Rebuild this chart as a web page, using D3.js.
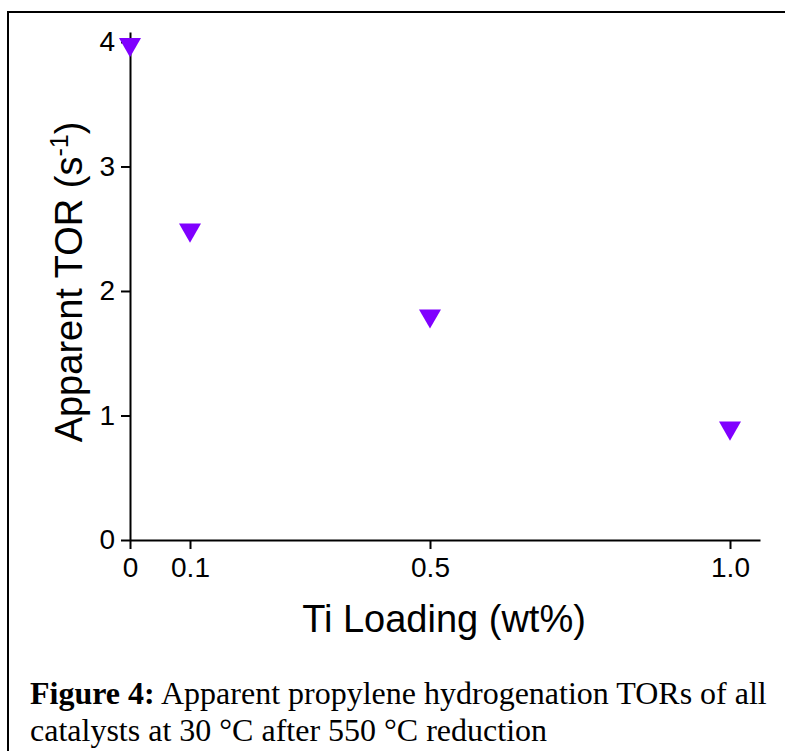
<!DOCTYPE html>
<html>
<head>
<meta charset="utf-8">
<script src="https://cdn.jsdelivr.net/npm/d3@7"></script>
<style>
  body { margin: 0; background: #fff; }
  svg { display: block; }
</style>
</head>
<body>
<script>
// data
var loading = [0, 0.1, 0.5, 1.0];          // Ti loading, wt%
var tor = [3.98, 2.49, 1.80, 0.90];        // apparent TOR, s^-1
var xTicks = [0, 0.1, 0.5, 1.0];
var xTickLabels = ["0", "0.1", "0.5", "1.0"];
var yTicks = [0, 1, 2, 3, 4];

var width = 785,
    height = 751;

var svg = d3.select("body").append("svg")
    .attr("width", width)
    .attr("height", height);

// frame (only left and top edges are in view)
svg.append("path")
    .attr("d", "M8,760V12H790")
    .style("fill", "none")
    .style("stroke", "#000")
    .style("stroke-width", "2px");

var x = d3.scaleLinear().domain([0, 1.05]).range([130, 760]);
var y = d3.scaleLinear().domain([0, 4.08]).range([540, 32]);

var xAxis = svg.append("g")
    .attr("transform", "translate(0,540)")
    .call(d3.axisBottom(x)
        .tickValues(xTicks)
        .tickFormat(function(d, i) { return xTickLabels[i]; })
        .tickSize(9)
        .tickSizeOuter(0)
        .tickPadding(8));

var yAxis = svg.append("g")
    .attr("transform", "translate(130,0)")
    .call(d3.axisLeft(y)
        .tickValues(yTicks)
        .tickFormat(d3.format("d"))
        .tickSize(9)
        .tickSizeOuter(0)
        .tickPadding(6));

[xAxis, yAxis].forEach(function(g) {
    g.select(".domain").style("stroke", "#000").style("stroke-width", "2px");
    g.selectAll(".tick line").style("stroke", "#000").style("stroke-width", "2px");
    g.selectAll(".tick text")
        .style("font-family", "Arial, 'Liberation Sans', sans-serif")
        .style("font-size", "28px")
        .style("fill", "#000");
});

// axis titles
svg.append("text")
    .attr("x", 444)
    .attr("y", 632)
    .attr("text-anchor", "middle")
    .style("font-family", "Arial, 'Liberation Sans', sans-serif")
    .style("font-size", "38px")
    .text("Ti Loading (wt%)");

var yTitle = svg.append("text")
    .attr("transform", "translate(82,282) rotate(-90)")
    .attr("text-anchor", "middle")
    .style("font-family", "Arial, 'Liberation Sans', sans-serif")
    .style("font-size", "38px");
yTitle.append("tspan").text("Apparent TOR (s");
yTitle.append("tspan").attr("dy", -14).style("font-size", "25px").text("-1");
yTitle.append("tspan").attr("dy", 14).text(")");

// markers
var marker = d3.symbol().type(d3.symbolTriangle).size(210);
svg.selectAll(".pt")
    .data(loading)
    .enter()
    .append("path")
    .attr("class", "pt")
    .attr("d", marker)
    .attr("transform", function(d, i) {
        return "translate(" + x(d) + "," + y(tor[i]) + ") rotate(180)";
    })
    .style("fill", "#8000ff");

// caption
var cap = svg.append("g")
    .style("font-family", "'Times New Roman', 'Liberation Serif', serif")
    .style("font-size", "32px")
    .style("fill", "#000");
var l1 = cap.append("text").attr("x", 30).attr("y", 704);
l1.append("tspan").style("font-weight", "bold").text("Figure 4:");
l1.append("tspan").text(" Apparent propylene hydrogenation TORs of all");
cap.append("text").attr("x", 30).attr("y", 741)
    .text("catalysts at 30 \u00B0C after 550 \u00B0C reduction");
</script>
</body>
</html>
